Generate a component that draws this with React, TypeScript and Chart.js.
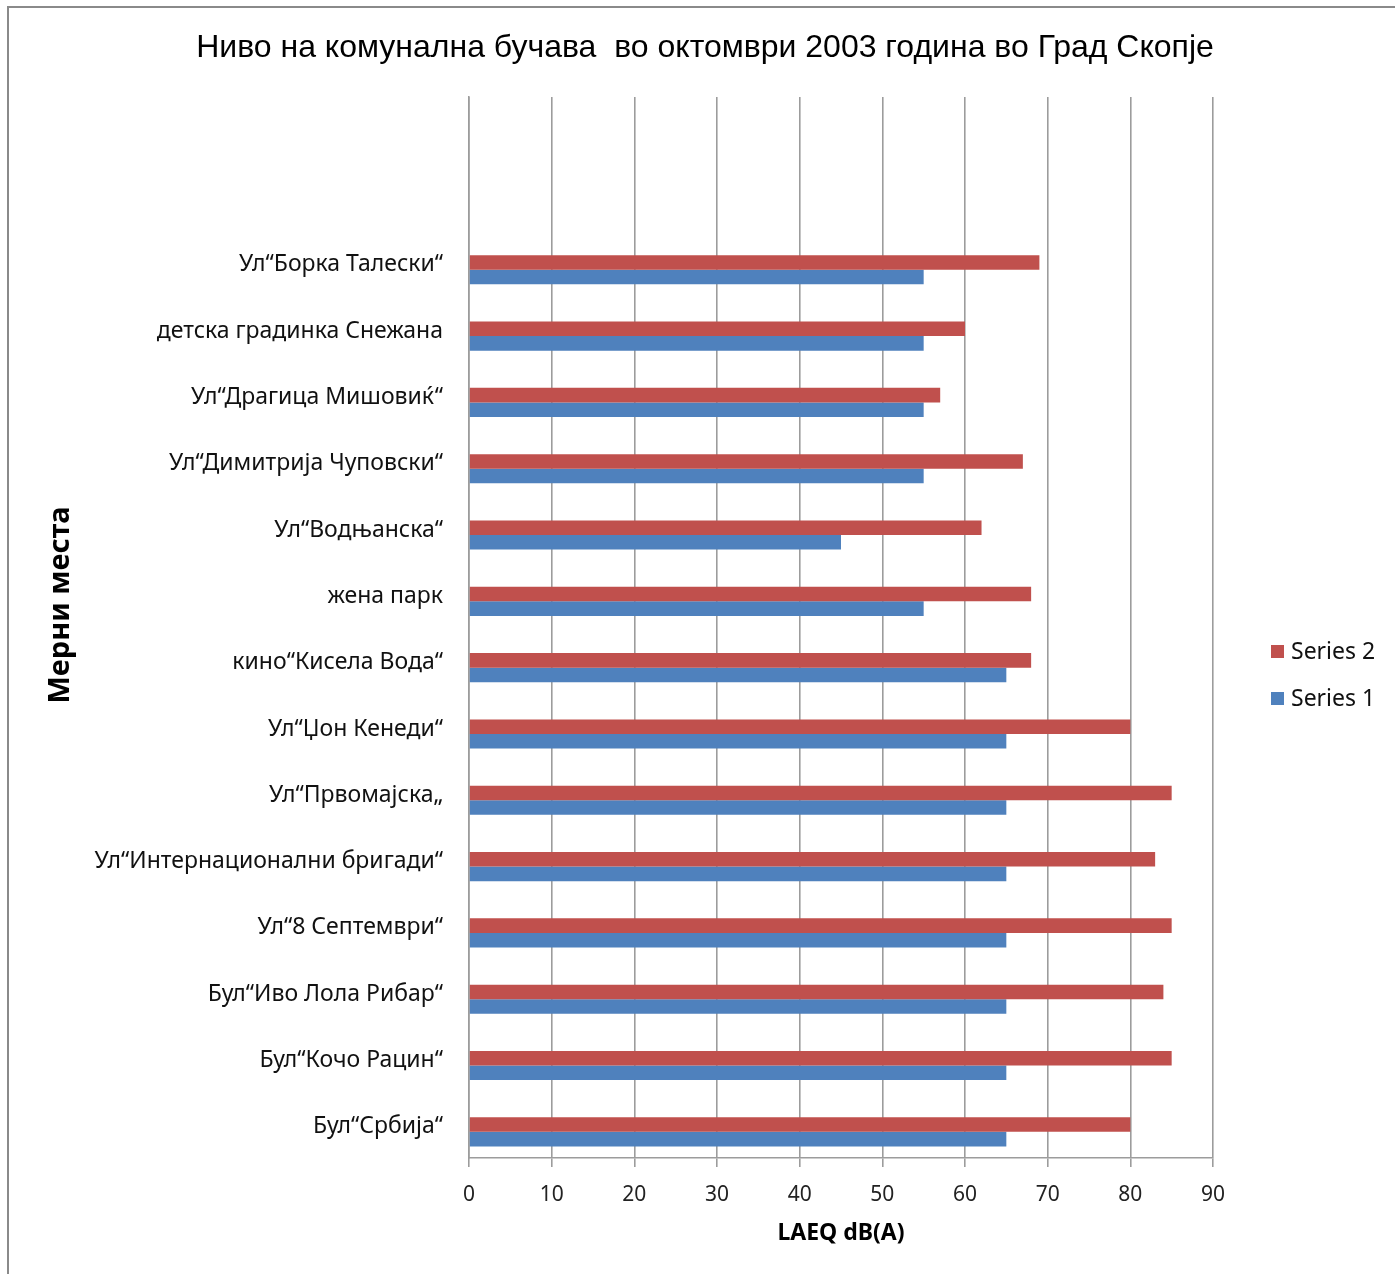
import React, { useEffect, useRef } from "react";
import { Chart, registerables } from "chart.js";

Chart.register(...registerables);

// Measuring points, top to bottom (two empty slots above the first street)
const categories: string[] = [
  "",
  "",
  "Ул“Борка Талески“",
  "детска градинка Снежана",
  "Ул“Драгица Мишовиќ“",
  "Ул“Димитрија Чуповски“",
  "Ул“Водњанска“",
  "жена парк",
  "кино“Кисела Вода“",
  "Ул“Џон Кенеди“",
  "Ул“Првомајска„",
  "Ул“Интернационални бригади“",
  "Ул“8 Септември“",
  "Бул“Иво Лола Рибар“",
  "Бул“Кочо Рацин“",
  "Бул“Србија“",
];

const series2: (number | null)[] = [null, null, 69, 60, 57, 67, 62, 68, 68, 80, 85, 83, 85, 84, 85, 80];
const series1: (number | null)[] = [null, null, 55, 55, 55, 55, 45, 55, 65, 65, 65, 65, 65, 65, 65, 65];

const xTicks: number[] = [0, 10, 20, 30, 40, 50, 60, 70, 80, 90];

const TITLE = "Ниво на комунална бучава  во октомври 2003 година во Град Скопје";
const Y_TITLE = "Мерни места";
const X_TITLE = "LAEQ dB(A)";

const RED = "#C0504D";
const BLUE = "#4F81BD";
const GRID = "#9c9c9c";
const LABEL_FONT = "'Noto Sans', sans-serif";

const W = 1395;
const H = 1274;

// Bars sit a little below the label line, as in the spreadsheet layout
const BAR_SHIFT = 7;

const shiftBars = {
  id: "shiftBars",
  beforeDatasetsDraw(chart: any) {
    chart.ctx.save();
    chart.ctx.translate(0, BAR_SHIFT);
  },
  afterDatasetsDraw(chart: any) {
    chart.ctx.restore();
  },
};

// Chart title, rotated category-axis title and the side legend
const extras = {
  id: "extras",
  afterDraw(chart: any) {
    const ctx = chart.ctx as CanvasRenderingContext2D;
    const area = chart.chartArea;

    ctx.save();
    ctx.fillStyle = "#000";
    ctx.font = "32px 'Liberation Sans', Arial, sans-serif";
    ctx.textAlign = "center";
    ctx.textBaseline = "middle";
    ctx.fillText(TITLE, 705, 48);
    ctx.restore();

    ctx.save();
    ctx.fillStyle = "#000";
    ctx.font = `bold 29px ${LABEL_FONT}`;
    ctx.textAlign = "center";
    ctx.textBaseline = "middle";
    ctx.translate(61, 605);
    ctx.rotate(-Math.PI / 2);
    ctx.fillText(Y_TITLE, 0, 0);
    ctx.restore();

    ctx.save();
    ctx.font = `23px ${LABEL_FONT}`;
    ctx.textAlign = "left";
    ctx.textBaseline = "middle";
    chart.data.datasets.forEach((ds: any, i: number) => {
      const y = 651 + i * 47;
      ctx.fillStyle = ds.backgroundColor;
      ctx.fillRect(area.right + 58, y - 6, 13, 13);
      ctx.fillStyle = "#111";
      ctx.fillText(ds.label, area.right + 78, y + 1);
    });
    ctx.restore();
  },
};

export default function App() {
  const ref = useRef<HTMLCanvasElement | null>(null);

  useEffect(() => {
    if (!ref.current) return;
    const chart = new Chart(ref.current, {
      type: "bar",
      data: {
        labels: categories,
        datasets: [
          { label: "Series 2", data: series2, backgroundColor: RED, categoryPercentage: 0.44, barPercentage: 1 },
          { label: "Series 1", data: series1, backgroundColor: BLUE, categoryPercentage: 0.44, barPercentage: 1 },
        ],
      },
      options: {
        indexAxis: "y",
        responsive: false,
        animation: false,
        layout: { padding: { left: 0, right: W - 1213, top: 97, bottom: 27 } },
        plugins: {
          legend: { display: false },
          tooltip: { enabled: false },
          title: { display: false },
        },
        scales: {
          x: {
            type: "linear",
            min: 0,
            max: 90,
            afterBuildTicks: (scale: any) => {
              scale.ticks = xTicks.map((v) => ({ value: v }));
            },
            afterFit: (scale: any) => {
              scale.height = 89;
            },
            grid: { color: GRID, lineWidth: 1.6, tickLength: 9, drawTicks: true },
            border: { color: GRID, width: 1.6 },
            ticks: {
              color: "#222",
              padding: 15,
              font: { family: LABEL_FONT, size: 21 },
            },
            title: {
              display: true,
              text: X_TITLE,
              color: "#000",
              font: { family: LABEL_FONT, size: 23, weight: "bold" },
              padding: { top: 0, bottom: 0 },
            },
          },
          y: {
            type: "category",
            afterFit: (scale: any) => {
              scale.width = 469;
            },
            grid: { display: false, drawTicks: false },
            border: { color: GRID, width: 1.6 },
            ticks: {
              color: "#111",
              padding: 26,
              labelOffset: 2,
              autoSkip: false,
              font: { family: LABEL_FONT, size: 23 },
            },
          },
        },
      },
      plugins: [shiftBars, extras],
    });
    return () => chart.destroy();
  }, []);

  return (
    <div style={{ position: "absolute", left: 0, top: 0, width: W, height: H, background: "#fff" }}>
      <div
        style={{
          position: "absolute",
          left: 7,
          top: 6,
          width: W,
          height: H,
          borderLeft: "2px solid #8a8a8a",
          borderTop: "2px solid #8a8a8a",
          pointerEvents: "none",
        }}
      />
      <canvas ref={ref} width={W} height={H} style={{ position: "absolute", left: 0, top: 0 }} />
    </div>
  );
}
